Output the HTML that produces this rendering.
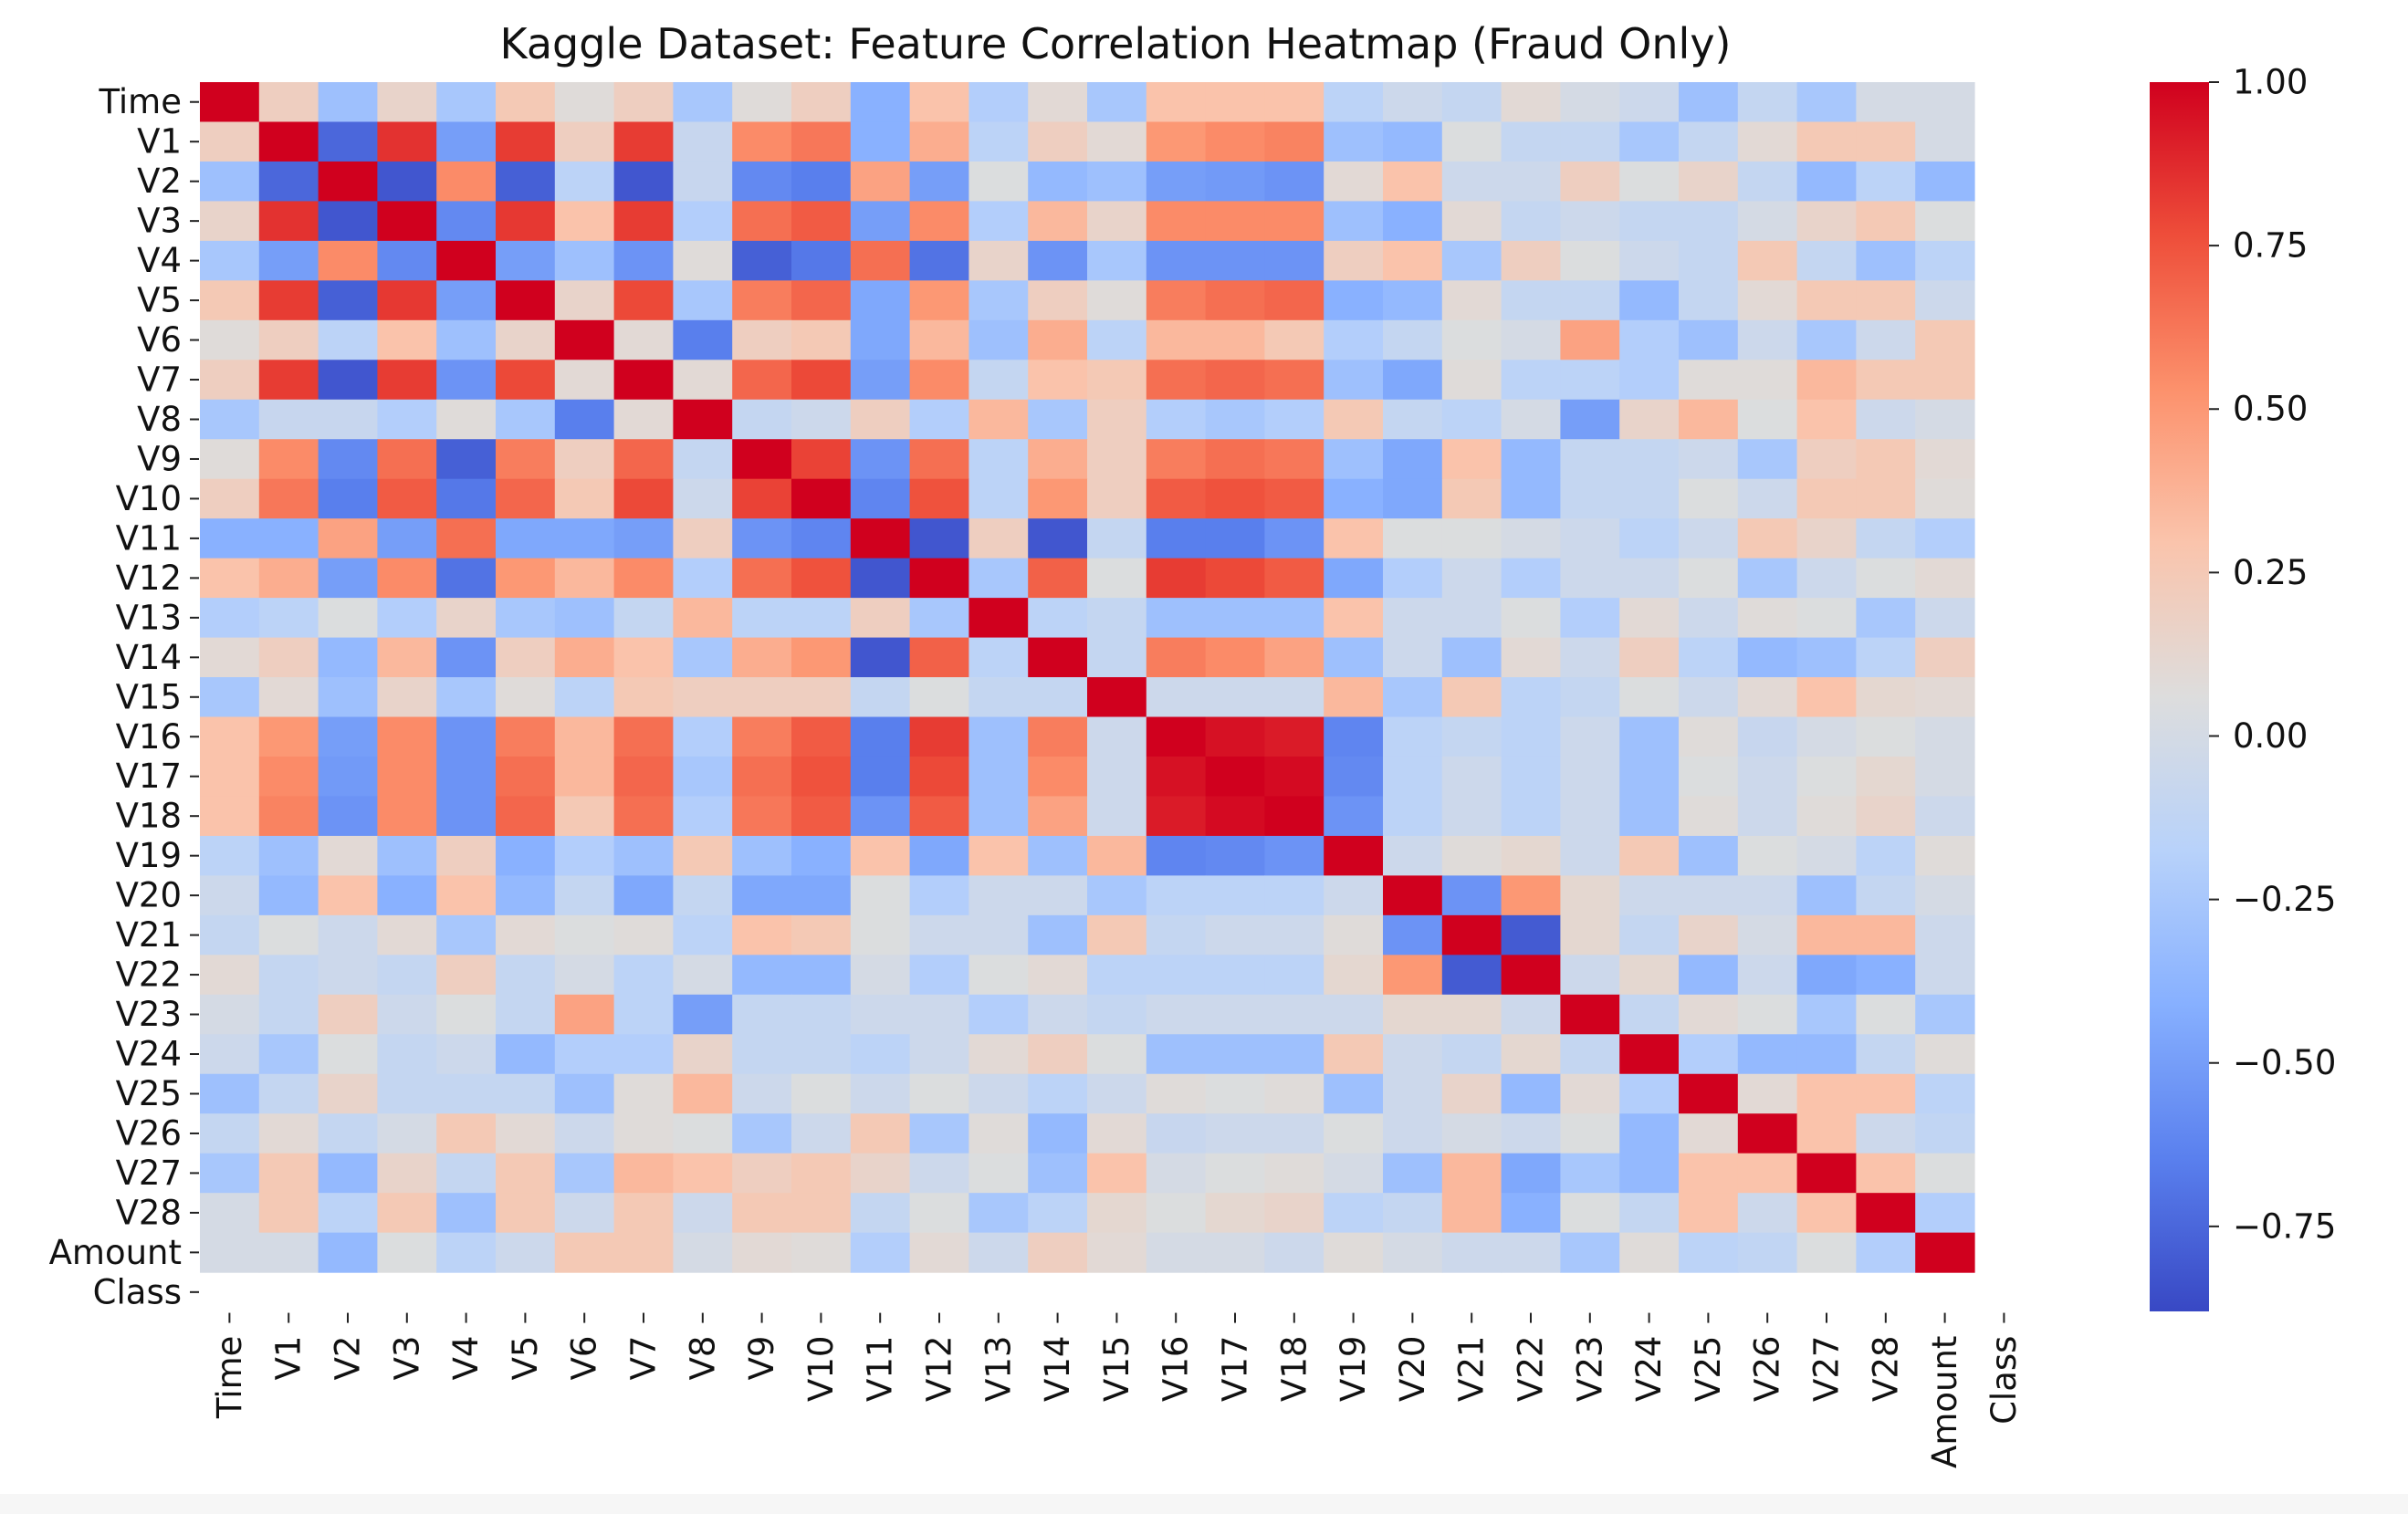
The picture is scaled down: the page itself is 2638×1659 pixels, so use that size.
<!DOCTYPE html>
<html>
<head>
<meta charset="utf-8">
<style>
  html,body{margin:0;padding:0;background:#ffffff;}
  body{width:2638px;height:1659px;overflow:hidden;position:relative;font-family:"DejaVu Sans","Liberation Sans",sans-serif;}
  #strip{position:absolute;left:0;top:1637px;width:2638px;height:22px;background:#f6f6f6;}
</style>
</head>
<body>
<div id="strip"></div>
<svg id="chart" width="2638" height="1659" xmlns="http://www.w3.org/2000/svg" style="position:absolute;left:0;top:0;font-family:'DejaVu Sans','Liberation Sans',sans-serif;">
  <text x="1222" y="64" font-size="46" text-anchor="middle" fill="#111">Kaggle Dataset: Feature Correlation Heatmap (Fraud Only)</text>
  <g id="cells"></g>
  <g id="yaxis"></g>
  <g id="xaxis"></g>
  <defs>
    <linearGradient id="cbgrad" x1="0" y1="1" x2="0" y2="0"></linearGradient>
  </defs>
  <g id="colorbar"></g>
</svg>
<script>
// ---- data ----
const categories = ["Time","V1","V2","V3","V4","V5","V6","V7","V8","V9","V10","V11","V12","V13","V14","V15","V16","V17","V18","V19","V20","V21","V22","V23","V24","V25","V26","V27","V28","Amount","Class"];
// upper triangle rows (excluding diagonal); Class has no values (NaN)
const rowTime = [0.2,-0.3,0.15,-0.25,0.25,0.08,0.2,-0.25,0.08,0.2,-0.4,0.3,-0.2,0.1,-0.25,0.3,0.3,0.3,-0.15,-0.05,-0.1,0.1,0.0,-0.05,-0.3,-0.1,-0.25,0.0,0.0];
const rowV1 = [-0.75,0.85,-0.5,0.82,0.2,0.82,-0.08,0.55,0.62,-0.4,0.4,-0.15,0.2,0.1,0.5,0.55,0.58,-0.3,-0.35,0.05,-0.1,-0.1,-0.25,-0.1,0.1,0.25,0.25,0.0];
const rowV2 = [-0.82,0.55,-0.78,-0.15,-0.82,-0.08,-0.6,-0.65,0.45,-0.5,0.05,-0.35,-0.3,-0.5,-0.52,-0.55,0.1,0.3,-0.05,-0.05,0.2,0.05,0.15,-0.1,-0.35,-0.15,-0.35];
const rowV3 = [-0.6,0.83,0.3,0.82,-0.2,0.65,0.72,-0.5,0.55,-0.2,0.35,0.15,0.55,0.55,0.55,-0.3,-0.4,0.1,-0.1,-0.05,-0.1,-0.1,0.0,0.15,0.25,0.05];
const rowV4 = [-0.5,-0.3,-0.55,0.08,-0.78,-0.68,0.65,-0.7,0.15,-0.55,-0.25,-0.55,-0.55,-0.55,0.2,0.3,-0.25,0.2,0.05,-0.05,-0.1,0.25,-0.1,-0.3,-0.15];
const rowV5 = [0.15,0.78,-0.25,0.6,0.68,-0.45,0.5,-0.25,0.2,0.08,0.6,0.65,0.68,-0.4,-0.35,0.1,-0.1,-0.1,-0.35,-0.1,0.1,0.25,0.25,-0.05];
const rowV6 = [0.1,-0.65,0.2,0.25,-0.45,0.35,-0.3,0.4,-0.15,0.35,0.35,0.25,-0.2,-0.1,0.05,0.0,0.45,-0.2,-0.3,-0.05,-0.25,-0.05,0.25];
const rowV7 = [0.1,0.68,0.78,-0.5,0.55,-0.1,0.3,0.25,0.65,0.68,0.65,-0.3,-0.45,0.08,-0.15,-0.15,-0.2,0.08,0.08,0.35,0.25,0.25];
const rowV8 = [-0.1,-0.05,0.2,-0.2,0.35,-0.25,0.2,-0.2,-0.25,-0.2,0.25,-0.1,-0.15,0.0,-0.5,0.15,0.35,0.05,0.3,-0.05,0.0];
const rowV9 = [0.8,-0.55,0.65,-0.15,0.4,0.2,0.6,0.65,0.62,-0.3,-0.45,0.3,-0.35,-0.1,-0.1,-0.05,-0.25,0.2,0.25,0.1];
const rowV10 = [-0.62,0.75,-0.15,0.5,0.2,0.72,0.75,0.72,-0.4,-0.45,0.25,-0.35,-0.1,-0.1,0.05,-0.05,0.25,0.25,0.08];
const rowV11 = [-0.82,0.2,-0.82,-0.1,-0.65,-0.65,-0.55,0.3,0.05,0.05,0.0,-0.05,-0.15,-0.05,0.25,0.15,-0.1,-0.2];
const rowV12 = [-0.25,0.7,0.05,0.82,0.78,0.72,-0.45,-0.2,-0.05,-0.2,-0.05,-0.05,0.05,-0.25,-0.05,0.05,0.1];
const rowV13 = [-0.15,-0.1,-0.3,-0.3,-0.3,0.3,-0.05,-0.05,0.05,-0.2,0.1,-0.05,0.08,0.05,-0.25,-0.05];
const rowV14 = [-0.1,0.6,0.55,0.45,-0.3,-0.05,-0.3,0.1,-0.05,0.2,-0.15,-0.35,-0.3,-0.15,0.2];
const rowV15 = [-0.05,-0.05,-0.05,0.35,-0.25,0.25,-0.15,-0.1,0.05,-0.05,0.1,0.3,0.12,0.1];
const rowV16 = [0.95,0.92,-0.62,-0.15,-0.1,-0.15,-0.05,-0.3,0.08,-0.08,0.0,0.05,0.0];
const rowV17 = [0.97,-0.6,-0.15,-0.05,-0.15,-0.05,-0.3,0.05,-0.05,0.05,0.12,0.0];
const rowV18 = [-0.55,-0.15,-0.05,-0.15,-0.05,-0.3,0.08,-0.05,0.08,0.15,-0.05];
const rowV19 = [-0.05,0.08,0.12,-0.05,0.25,-0.3,0.05,0.0,-0.15,0.08];
const rowV20 = [-0.55,0.5,0.12,-0.05,-0.05,-0.05,-0.3,-0.1,0.0];
const rowV21 = [-0.8,0.12,-0.1,0.15,0.0,0.35,0.35,-0.05];
const rowV22 = [-0.05,0.12,-0.35,-0.05,-0.45,-0.4,-0.05];
const rowV23 = [-0.1,0.1,0.05,-0.25,0.05,-0.25];
const rowV24 = [-0.2,-0.35,-0.35,-0.1,0.08];
const rowV25 = [0.1,0.3,0.3,-0.15];
const rowV26 = [0.3,-0.05,-0.12];
const rowV27 = [0.3,0.05];
const rowV28 = [-0.2];
const rowAmount = [];
const upperRows = [rowTime,rowV1,rowV2,rowV3,rowV4,rowV5,rowV6,rowV7,rowV8,rowV9,rowV10,rowV11,rowV12,rowV13,rowV14,rowV15,rowV16,rowV17,rowV18,rowV19,rowV20,rowV21,rowV22,rowV23,rowV24,rowV25,rowV26,rowV27,rowV28,rowAmount];
const colorbarTicks = [1.00,0.75,0.50,0.25,0.00,-0.25,-0.50,-0.75];
const vmin = -0.88, vmax = 1.0;

// ---- layout ----
const NS = "http://www.w3.org/2000/svg";
const gridLeft = 219, gridTop = 90, cw = 64.8, ch = 43.47;
const nVals = upperRows.length;
const cbX = 2355, cbW = 65, cbTop = 90, cbBot = 1437;
function xPos(i){ return gridLeft + i*cw; }
function yPos(i){ return gridTop + i*ch; }
function cbY(v){ return cbBot - (v - vmin)/(vmax - vmin)*(cbBot - cbTop); }

const stops = [
  [0.0,[56,72,196]],[0.125,[90,128,238]],[0.25,[135,176,255]],[0.375,[184,210,250]],
  [0.5,[221,221,221]],[0.625,[250,196,172]],[0.75,[252,145,108]],[0.875,[238,78,58]],[1.0,[208,0,30]]
];
function color(v){
  let t = (v - vmin)/(vmax - vmin);
  t = Math.max(0, Math.min(1, t));
  for (let k=0;k<stops.length-1;k++){
    const a=stops[k], b=stops[k+1];
    if (t<=b[0]){
      const f=(t-a[0])/(b[0]-a[0]);
      const c=a[1].map((x,j)=>Math.round(x+(b[1][j]-x)*f));
      return `rgb(${c[0]},${c[1]},${c[2]})`;
    }
  }
  return "rgb(208,0,30)";
}
function value(i,j){
  if (i===j) return 1;
  const a=Math.min(i,j), b=Math.max(i,j);
  const v = upperRows[a][b-a-1];
  return (v===undefined) ? 0 : v;
}

const cells = document.getElementById("cells");
for (let i=0;i<nVals;i++){
  for (let j=0;j<nVals;j++){
    const r = document.createElementNS(NS,"rect");
    r.setAttribute("x", xPos(j).toFixed(2));
    r.setAttribute("y", yPos(i).toFixed(2));
    r.setAttribute("width", (cw+0.6).toFixed(2));
    r.setAttribute("height", (ch+0.6).toFixed(2));
    r.setAttribute("fill", color(value(i,j)));
    
    
    cells.appendChild(r);
  }
}

const yaxis = document.getElementById("yaxis");
const xaxis = document.getElementById("xaxis");
const gridBottom = gridTop + categories.length*ch;
categories.forEach((c,i)=>{
  const cy = yPos(i) + ch/2;
  const t = document.createElementNS(NS,"line");
  t.setAttribute("x1", gridLeft-11); t.setAttribute("x2", gridLeft-1);
  t.setAttribute("y1", cy); t.setAttribute("y2", cy);
  t.setAttribute("stroke","#222"); t.setAttribute("stroke-width","2");
  
  
  yaxis.appendChild(t);
  const lb = document.createElementNS(NS,"text");
  lb.setAttribute("x", gridLeft-20); lb.setAttribute("y", cy);
  lb.setAttribute("text-anchor","end"); lb.setAttribute("dominant-baseline","central");
  lb.setAttribute("font-size","37"); lb.setAttribute("fill","#111");
  lb.textContent = c;
  
  
  yaxis.appendChild(lb);

  const cx = xPos(i) + cw/2;
  const tx = document.createElementNS(NS,"line");
  tx.setAttribute("x1", cx); tx.setAttribute("x2", cx);
  tx.setAttribute("y1", gridBottom+1); tx.setAttribute("y2", gridBottom+12);
  tx.setAttribute("stroke","#222"); tx.setAttribute("stroke-width","2");
  
  
  xaxis.appendChild(tx);
  const lx = document.createElementNS(NS,"text");
  lx.setAttribute("transform", `translate(${cx},${gridBottom+26}) rotate(-90)`);
  lx.setAttribute("text-anchor","end"); lx.setAttribute("dominant-baseline","central");
  lx.setAttribute("font-size","37"); lx.setAttribute("fill","#111");
  lx.textContent = c;
  
  
  xaxis.appendChild(lx);
});

const grad = document.getElementById("cbgrad");
stops.forEach(s=>{
  const st = document.createElementNS(NS,"stop");
  st.setAttribute("offset", s[0]);
  st.setAttribute("stop-color", `rgb(${s[1][0]},${s[1][1]},${s[1][2]})`);
  grad.appendChild(st);
});
const cb = document.getElementById("colorbar");
const cbr = document.createElementNS(NS,"rect");
cbr.setAttribute("x", cbX); cbr.setAttribute("y", cbTop);
cbr.setAttribute("width", cbW); cbr.setAttribute("height", cbBot-cbTop);
cbr.setAttribute("fill","url(#cbgrad)");


cb.appendChild(cbr);
colorbarTicks.forEach(v=>{
  const y = cbY(v);
  const l = document.createElementNS(NS,"line");
  l.setAttribute("x1", cbX+cbW); l.setAttribute("x2", cbX+cbW+11);
  l.setAttribute("y1", y); l.setAttribute("y2", y);
  l.setAttribute("stroke","#222"); l.setAttribute("stroke-width","2");
  
  
  cb.appendChild(l);
  const t = document.createElementNS(NS,"text");
  t.setAttribute("x", cbX+cbW+26); t.setAttribute("y", y);
  t.setAttribute("dominant-baseline","central");
  t.setAttribute("font-size","37"); t.setAttribute("fill","#111");
  t.textContent = (v<0 ? "\u2212" : "") + Math.abs(v).toFixed(2);
  
  
  cb.appendChild(t);
});
</script>
</body>
</html>
